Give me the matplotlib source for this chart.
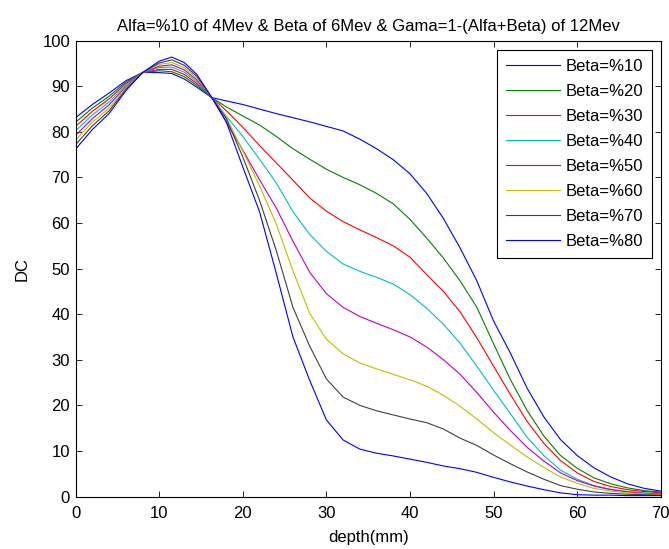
import matplotlib
matplotlib.use("Agg")
import matplotlib.pyplot as plt

# depth grid (mm) and DC curves
depth = [0, 2, 4, 6, 8, 10, 11.5, 13, 14.5, 16.3,
         18, 20, 22, 24, 26, 28, 30, 32, 34, 36, 38, 40, 42, 44,
         46, 48, 50, 52, 54, 56, 58, 60, 62, 64, 66, 68, 70]

beta10 = [83.1, 86.0, 88.5, 91.2, 93.0, 93.0, 92.8, 91.6, 89.8, 87.5,
          86.8, 86.0, 85.0, 84.0, 83.1, 82.2, 81.2, 80.2, 78.4, 76.3, 73.9, 70.8, 66.5, 61.0,
          54.5, 47.3, 38.5, 31.5, 23.8, 17.5, 12.5, 9.0, 6.3, 4.3, 2.8, 1.8, 1.2]
beta20 = [82.1, 85.2, 87.8, 90.9, 93.0, 93.4, 93.2, 92.1, 90.2, 87.5,
          85.5, 83.5, 81.5, 79.0, 76.3, 74.0, 71.8, 70.0, 68.4, 66.5, 64.2, 60.8, 56.7, 52.3,
          47.3, 41.5, 33.5, 25.7, 18.9, 13.3, 9.0, 6.2, 4.1, 2.8, 1.9, 1.3, 1.0]
beta30 = [81.2, 84.5, 87.2, 90.6, 93.0, 93.7, 93.7, 92.6, 90.6, 87.5,
          84.7, 81.0, 77.0, 73.2, 69.4, 65.5, 62.6, 60.3, 58.5, 56.8, 55.0, 52.5, 48.7, 45.0,
          40.5, 34.8, 28.6, 22.4, 16.5, 11.7, 7.9, 5.2, 3.3, 2.2, 1.5, 1.1, 0.8]
beta40 = [80.2, 83.7, 86.5, 90.3, 93.0, 94.1, 94.2, 93.1, 91.0, 87.5,
          83.5, 79.0, 74.0, 68.8, 62.5, 57.5, 53.8, 51.0, 49.4, 48.1, 46.6, 44.3, 41.3, 37.8,
          33.6, 28.6, 23.3, 18.2, 13.0, 9.0, 5.8, 3.8, 2.4, 1.6, 1.1, 0.8, 0.6]
beta50 = [79.2, 82.9, 85.9, 89.9, 93.0, 94.4, 94.7, 93.6, 91.4, 87.5,
          82.2, 76.0, 69.5, 63.3, 56.0, 49.2, 44.5, 41.5, 39.5, 38.0, 36.6, 35.0, 32.8, 30.0,
          26.8, 22.8, 18.5, 14.5, 10.8, 7.8, 5.2, 3.5, 2.3, 1.5, 1.0, 0.7, 0.5]
beta60 = [78.2, 82.1, 85.2, 89.6, 93.0, 94.8, 95.2, 94.1, 91.8, 87.5,
          83.3, 75.8, 68.2, 59.8, 49.5, 40.2, 34.5, 31.3, 29.3, 28.0, 26.8, 25.6, 24.2, 22.2,
          19.8, 17.0, 14.0, 11.3, 8.7, 6.4, 4.3, 2.9, 1.8, 1.2, 0.8, 0.6, 0.4]
beta70 = [77.2, 81.3, 84.6, 89.3, 93.0, 95.1, 95.8, 94.6, 92.2, 87.5,
          83.0, 74.5, 65.0, 54.0, 41.5, 33.0, 25.8, 21.8, 20.0, 18.8, 17.9, 17.0, 16.2, 14.8,
          12.8, 11.2, 9.1, 7.2, 5.4, 3.8, 2.4, 1.6, 1.0, 0.7, 0.5, 0.4, 0.3]
beta80 = [76.2, 80.5, 84.0, 89.0, 93.0, 95.5, 96.4, 95.2, 92.6, 87.5,
          82.3, 72.3, 62.5, 49.0, 35.0, 25.5, 16.8, 12.4, 10.4, 9.5, 8.9, 8.2, 7.5, 6.7,
          6.1, 5.3, 4.2, 3.2, 2.3, 1.5, 0.8, 0.4, 0.3, 0.3, 0.2, 0.2, 0.2]

series = [beta10, beta20, beta30, beta40, beta50, beta60, beta70, beta80]
labels = ['Beta=%10', 'Beta=%20', 'Beta=%30', 'Beta=%40',
          'Beta=%50', 'Beta=%60', 'Beta=%70', 'Beta=%80']
# old MATLAB line colour order
colors = [(0, 0, 1), (0, 0.5, 0), (1, 0, 0), (0, 0.75, 0.75),
          (0.75, 0, 0.75), (0.75, 0.75, 0), (0.25, 0.25, 0.25), (0, 0, 1)]

plt.rcParams['font.family'] = ['Liberation Sans', 'DejaVu Sans']
plt.rcParams['font.size'] = 12

fig = plt.figure(figsize=(6.69, 5.49), dpi=100)
ax = fig.add_axes([0.113, 0.0956, 0.8747, 0.8303])

for ys, lab, c in zip(series, labels, colors):
    ax.plot(depth, ys, color=c, lw=0.8, label=lab)

ax.set_xlim(0, 70)
ax.set_ylim(0, 100)
ax.set_xticks(range(0, 71, 10))
ax.set_yticks(range(0, 101, 10))
ax.tick_params(direction='in', top=True, right=True, length=4, width=0.6)
ax.tick_params(axis='x', pad=7)
ax.tick_params(axis='y', pad=4)
for s in ax.spines.values():
    s.set_linewidth(0.8)

ax.set_xlabel('depth(mm)', labelpad=6)
ax.set_ylabel('DC', labelpad=9)
ax.set_title('Alfa=%10 of 4Mev & Beta of 6Mev & Gama=1-(Alfa+Beta) of 12Mev',
             fontsize=12, pad=7)

leg = ax.legend(loc='upper right', bbox_to_anchor=(0.9855, 0.9796), fancybox=False,
                edgecolor='black', framealpha=1, handlelength=3.2, handletextpad=0.35,
                labelspacing=0.6, borderpad=0.55, borderaxespad=0)
leg.get_frame().set_linewidth(0.8)

fig.savefig('out.png', dpi=100)
